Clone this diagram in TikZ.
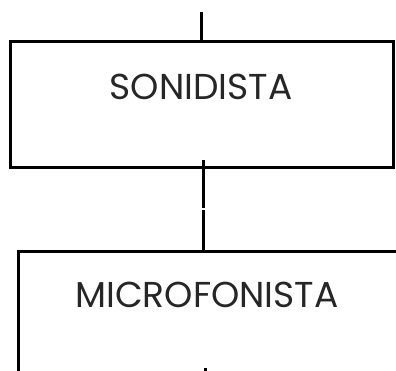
\documentclass[tikz,border=0pt]{standalone}
\usepackage{fontspec}
\setmainfont{Poppins}
\begin{document}
\begin{tikzpicture}[x=1pt,y=1pt,
  boxstyle/.style={draw=black,line width=3pt,rectangle,inner sep=0pt},
  lbl/.style={text=black!85,font=\fontsize{36}{38}\selectfont,inner sep=0pt},
  conn/.style={draw=black,line width=3pt}]
\useasboundingbox (0,0) rectangle (396,371);
\clip (0,0) rectangle (396,371);
\node[boxstyle,minimum width=383pt,minimum height=126pt] (box1) at (201.5,266) {};
\node[lbl] (t1) at (201,284) {SONIDISTA};
\node[boxstyle,minimum width=420pt,minimum height=160pt,anchor=north west] (box2) at (17,121) {};
\node[lbl] (t2) at (207,76) {MICROFONISTA};
\coordinate (top) at (201,359);
\coordinate (a1) at (203.5,211);
\coordinate (a2) at (203.5,163);
\coordinate (a3) at (203,161);
\coordinate (a4) at (203,121);
\coordinate (b1) at (205,3);
\coordinate (b2) at (205,-5);
\draw[conn] (top) -- (top |- box1.north);
\draw[conn] (a1) -- (a2);
\draw[conn] (a3) -- (a4);
\draw[conn] (b1) -- (b2);
\end{tikzpicture}
\end{document}
